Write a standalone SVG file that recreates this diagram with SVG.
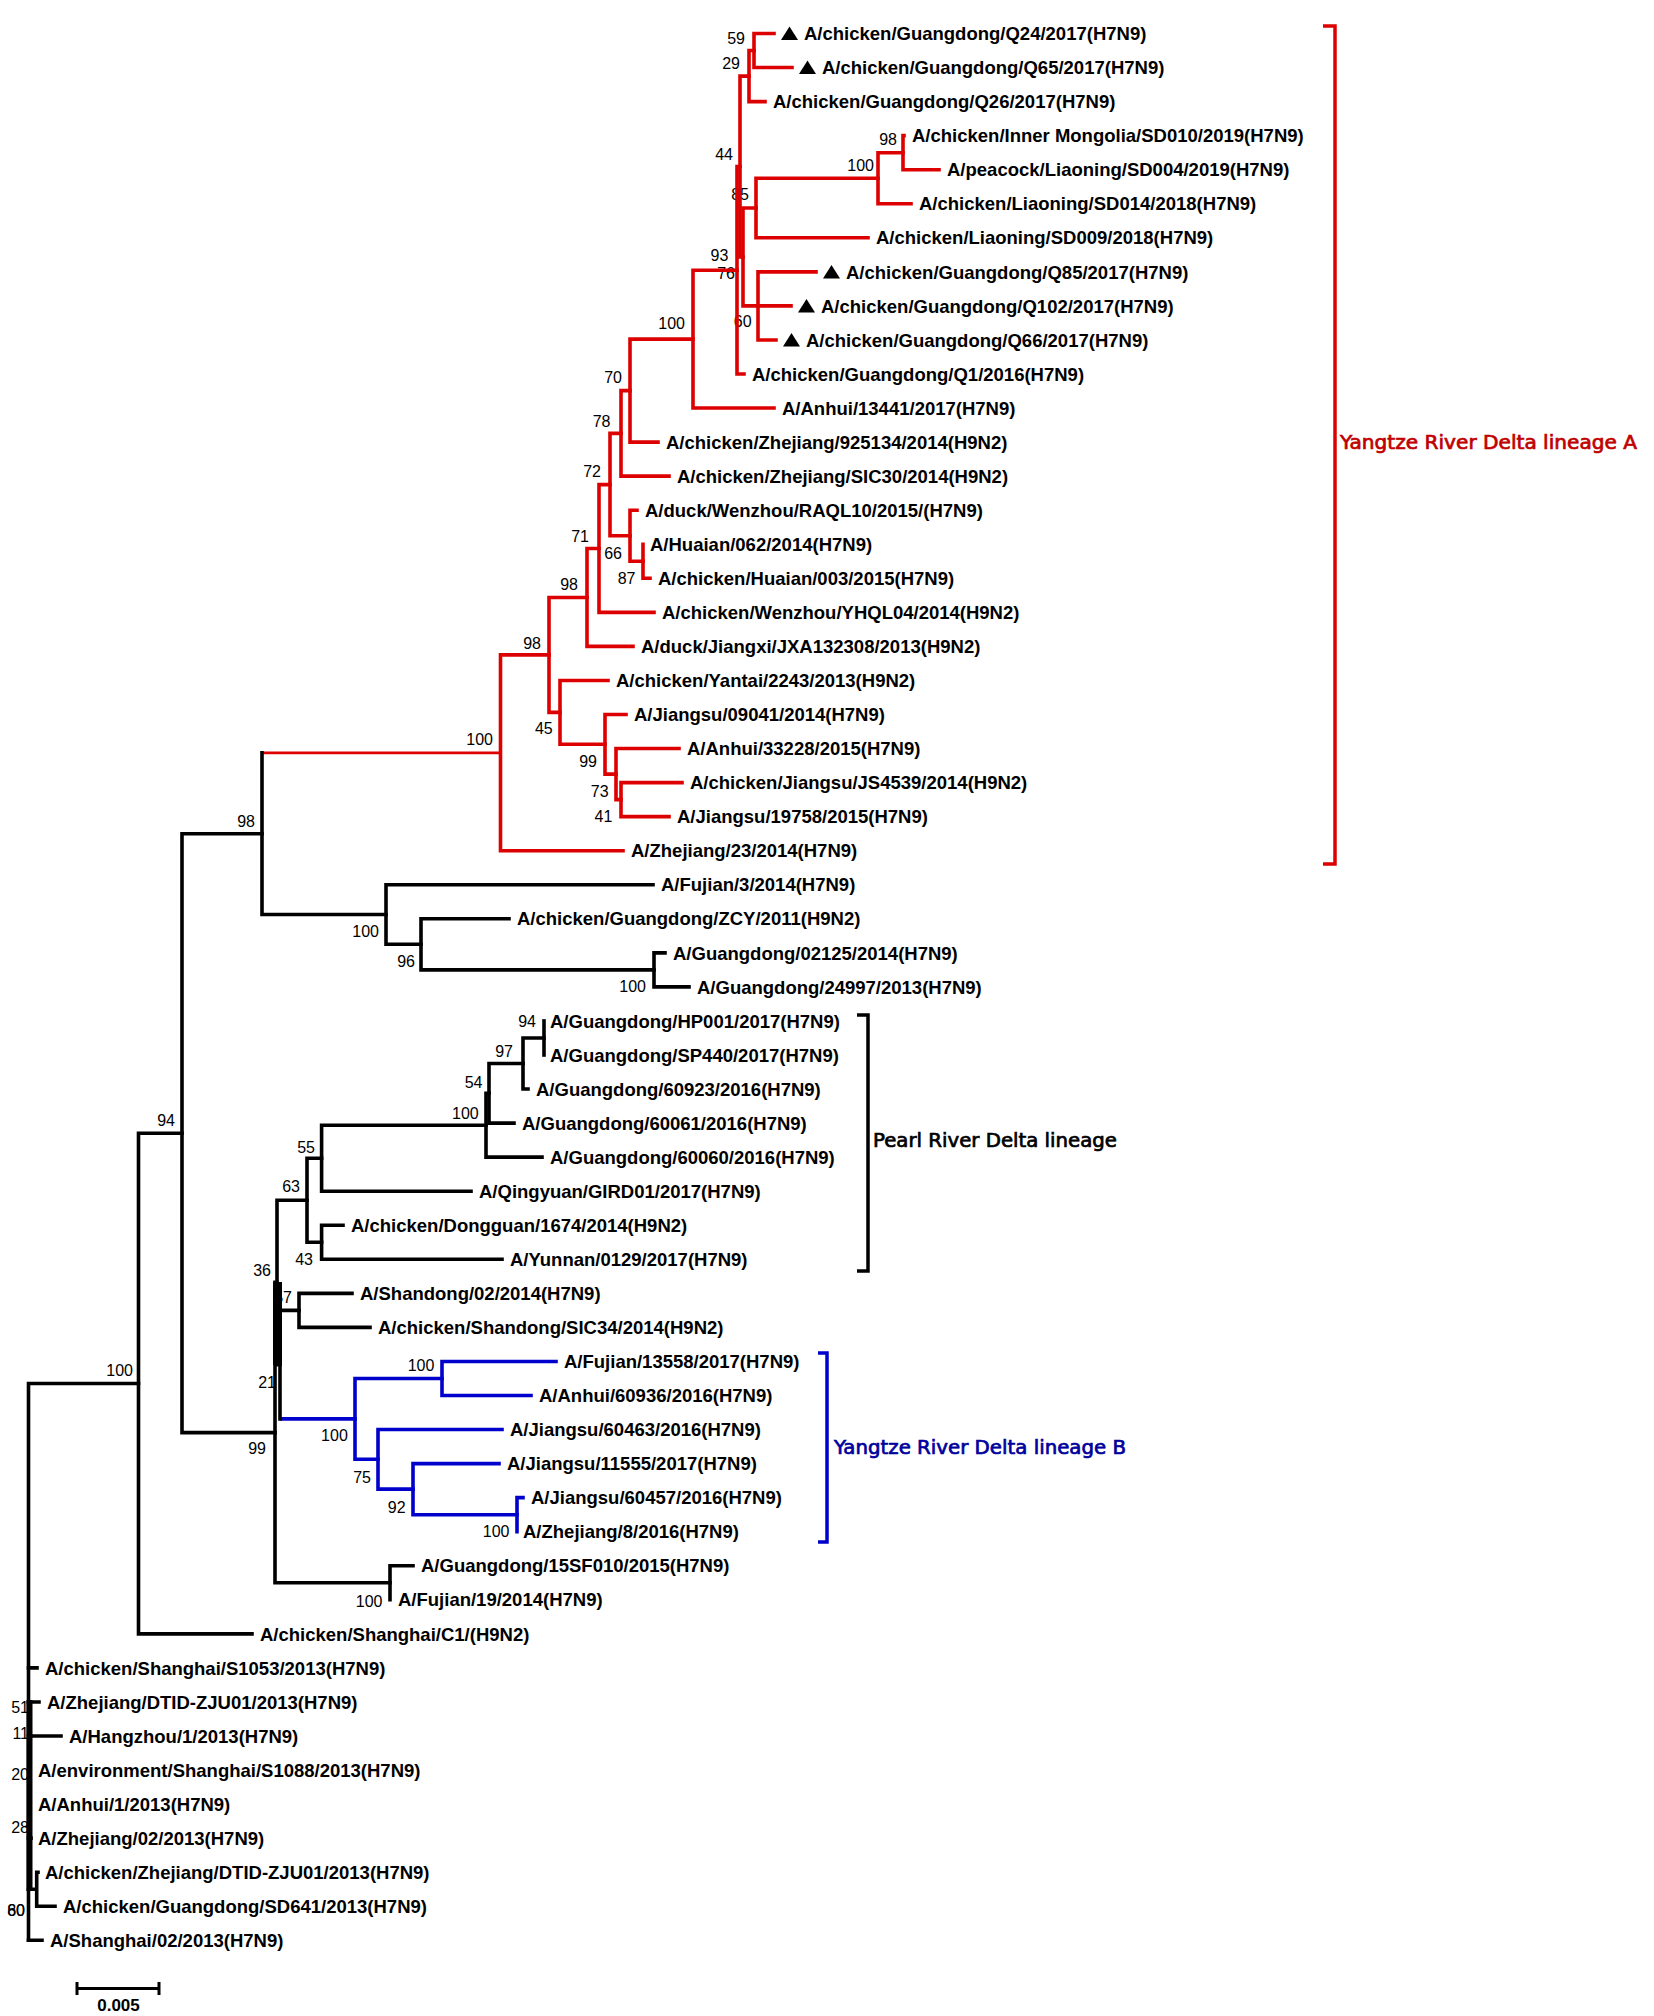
<svg xmlns="http://www.w3.org/2000/svg" width="1654" height="2016" viewBox="0 0 1654 2016">
<style>
.lf{font-family:"Liberation Sans",Arial,sans-serif;font-weight:bold;font-size:18.5px;fill:#000}
.bs{font-family:"Liberation Sans",Arial,sans-serif;font-size:16px;fill:#000;text-anchor:end}
.ln{font-family:"DejaVu Sans",sans-serif;font-size:19px;stroke-width:0.7}
.c path{fill:none;stroke-width:3.6;stroke-linecap:square}
.r{stroke:#dd0000}.b{stroke:#0000cc}.k{stroke:#000}
.br{fill:none;stroke-width:3.5}
</style>
<rect width="1654" height="2016" fill="#fff"/>
<g id="bootstrap">
<text class="bs" x="745" y="44">59</text>
<text class="bs" x="740" y="68.8">29</text>
<text class="bs" x="733" y="160">44</text>
<text class="bs" x="749" y="200">85</text>
<text class="bs" x="728.4" y="260.5">93</text>
<text class="bs" x="735" y="278.5">76</text>
<text class="bs" x="751.6" y="327">60</text>
<text class="bs" x="874" y="170.5">100</text>
<text class="bs" x="897" y="145">98</text>
<text class="bs" x="685" y="328.5">100</text>
<text class="bs" x="622" y="382.5">70</text>
<text class="bs" x="610.5" y="427">78</text>
<text class="bs" x="601" y="477">72</text>
<text class="bs" x="589" y="542">71</text>
<text class="bs" x="622" y="558.5">66</text>
<text class="bs" x="635.5" y="583.5">87</text>
<text class="bs" x="578" y="590.2">98</text>
<text class="bs" x="541" y="648.5">98</text>
<text class="bs" x="552.7" y="733.5">45</text>
<text class="bs" x="597" y="767">99</text>
<text class="bs" x="608.6" y="797">73</text>
<text class="bs" x="612.4" y="822">41</text>
<text class="bs" x="493" y="744.7">100</text>
<text class="bs" x="255" y="826.5">98</text>
<text class="bs" x="379" y="937">100</text>
<text class="bs" x="415" y="967">96</text>
<text class="bs" x="646" y="992.2">100</text>
<text class="bs" x="536" y="1026.5">94</text>
<text class="bs" x="513" y="1056.5">97</text>
<text class="bs" x="482.5" y="1087.5">54</text>
<text class="bs" x="478.7" y="1118.5">100</text>
<text class="bs" x="315" y="1152.5">55</text>
<text class="bs" x="300" y="1191.5">63</text>
<text class="bs" x="313" y="1264.5">43</text>
<text class="bs" x="271" y="1275.5">36</text>
<text class="bs" x="292" y="1302.5">57</text>
<text class="bs" x="276" y="1387.5">21</text>
<text class="bs" x="175" y="1125.5">94</text>
<text class="bs" x="133" y="1375.5">100</text>
<text class="bs" x="266" y="1453.5">99</text>
<text class="bs" x="434.4" y="1371.3">100</text>
<text class="bs" x="347.8" y="1441.4">100</text>
<text class="bs" x="371" y="1483">75</text>
<text class="bs" x="405.6" y="1513.2">92</text>
<text class="bs" x="509.5" y="1536.5">100</text>
<text class="bs" x="382.5" y="1606.5">100</text>
<text class="bs" x="29" y="1712.5">51</text>
<text class="bs" x="29" y="1739">11</text>
<text class="bs" x="29" y="1779.5">20</text>
<text class="bs" x="29" y="1832.5">28</text>
<text class="bs" x="25" y="1915.5">60</text>
<text class="bs" x="25" y="1915.5">80</text>
</g>
<g id="connectors" class="c">
<g class="r">
<path d="M754,33.5V67.55M754,33.5H774M754,67.55H792"/>
<path d="M749,50.5V101.6M749,50.5H754M749,101.6H765"/>
<path d="M740,76.1V257M740,76.1H749M740,257H743"/>
<path d="M743,208V305.9M743,208H756M743,305.9H791"/>
<path d="M756,178.2V237.8M756,178.2H878M756,237.8H868"/>
<path d="M878,152.7V203.75M878,152.7H903M878,203.75H911"/>
<path d="M903,135.65V169.7M903,135.65H904M903,169.7H939"/>
<path d="M758,271.85V339.95M758,271.85H816M758,339.95H776"/>
<path d="M737,166.5V374M737,166.5H740M737,374H744"/>
<path d="M693,270.25V408.05M693,270.25H737M693,408.05H774"/>
<path d="M630,339.15V442.1M630,339.15H693M630,442.1H658"/>
<path d="M621,390.6V476.15M621,390.6H630M621,476.15H669"/>
<path d="M643,544.25V578.3M643,578.3H650"/>
<path d="M630,510.2V561.3M630,510.2H637M630,561.3H643"/>
<path d="M610,433.4V535.7M610,433.4H621M610,535.7H630"/>
<path d="M599,484.6V612.35M599,484.6H610M599,612.35H654"/>
<path d="M587,548.5V646.4M587,548.5H599M587,646.4H633"/>
<path d="M621,782.6V816.65M621,782.6H682M621,816.65H669"/>
<path d="M616,748.55V799.6M616,748.55H679M616,799.6H621"/>
<path d="M605,714.5V774.1M605,714.5H626M605,774.1H616"/>
<path d="M560,680.45V744.3M560,680.45H608M560,744.3H605"/>
<path d="M549,597.45V712.4M549,597.45H587M549,712.4H560"/>
<path d="M500.5,654.9V850.7M500.5,654.9H549M500.5,850.7H623"/>
<path d="M263,752.8H500.5" style="stroke-width:2.8"/>
</g>
<g class="b">
<path d="M442,1361.45V1395.5M442,1361.45H556M442,1395.5H531"/>
<path d="M517,1497.65V1531.7M517,1497.65H523"/>
<path d="M413,1463.6V1514.7M413,1463.6H499M413,1514.7H517"/>
<path d="M378,1429.55V1489.1M378,1429.55H502M378,1489.1H413"/>
<path d="M355,1378.5V1459.3M355,1378.5H442M355,1459.3H378"/>
<path d="M282,1418.9H355"/>
</g>
<g class="k">
<path d="M262,752.8V914.5M262,914.5H386"/>
<path d="M386,884.75V944.3M386,884.75H653M386,944.3H421"/>
<path d="M421,918.8V969.9M421,918.8H509M421,969.9H654"/>
<path d="M654,952.85V986.9M654,952.85H665M654,986.9H689"/>
<path d="M544,1020.95V1055"/>
<path d="M523,1038V1089.05M523,1038H544M523,1089.05H528"/>
<path d="M489,1063.5V1123.1M489,1063.5H523M489,1123.1H514"/>
<path d="M486,1093.3V1157.15M486,1093.3H489M486,1157.15H542"/>
<path d="M321.6,1125.2V1191.2M321.6,1125.2H486M321.6,1191.2H471"/>
<path d="M321.6,1225.25V1259.3M321.6,1225.25H343M321.6,1259.3H502"/>
<path d="M307,1158.2V1242.3M307,1158.2H321.6M307,1242.3H321.6"/>
<path d="M299,1293.35V1327.4M299,1293.35H352M299,1327.4H370"/>
<path d="M280,1310.4V1418.9M280,1310.4H299"/>
<path d="M277,1200.2V1364.6M277,1200.2H307M277,1364.6H280"/>
<path d="M390,1565.75V1599.8M390,1565.75H413"/>
<path d="M275,1282.4V1582.8M275,1282.4H277M275,1582.8H390"/>
<path d="M182,833.7V1432.6M182,833.7H262M182,1432.6H275"/>
<path d="M138.5,1133.2V1633.85M138.5,1133.2H182M138.5,1633.85H252"/>
<path d="M28.5,1383.5V1940.3M28.5,1383.5H138.5"/>
<path d="M28.5,1667.9H37M28.5,1701.95H39M28.5,1736H61M28.5,1838.15H31M28.5,1889.2H36.7M36.7,1872.2V1906.25M36.7,1872.2H38M36.7,1906.25H55M28.5,1940.3H42"/>
</g>
<rect x="273" y="1282" width="9" height="83" fill="#000"/>
<rect x="26.5" y="1700" width="6" height="191" fill="#000"/>
</g>
<g id="leaves">
<g id="leaf01"><polygon points="781,40 798,40 789.5,26.5"/><text class="lf" x="804" y="40.1">A/chicken/Guangdong/Q24/2017(H7N9)</text></g>
<g id="leaf02"><polygon points="799,74 816,74 807.5,60.5"/><text class="lf" x="822" y="74.2">A/chicken/Guangdong/Q65/2017(H7N9)</text></g>
<g id="leaf03"><text class="lf" x="773" y="108.2">A/chicken/Guangdong/Q26/2017(H7N9)</text></g>
<g id="leaf04"><text class="lf" x="912" y="142.3">A/chicken/Inner Mongolia/SD010/2019(H7N9)</text></g>
<g id="leaf05"><text class="lf" x="947" y="176.3">A/peacock/Liaoning/SD004/2019(H7N9)</text></g>
<g id="leaf06"><text class="lf" x="919" y="210.4">A/chicken/Liaoning/SD014/2018(H7N9)</text></g>
<g id="leaf07"><text class="lf" x="876" y="244.4">A/chicken/Liaoning/SD009/2018(H7N9)</text></g>
<g id="leaf08"><polygon points="823,278.4 840,278.4 831.5,264.9"/><text class="lf" x="846" y="278.5">A/chicken/Guangdong/Q85/2017(H7N9)</text></g>
<g id="leaf09"><polygon points="798,312.4 815,312.4 806.5,298.9"/><text class="lf" x="821" y="312.5">A/chicken/Guangdong/Q102/2017(H7N9)</text></g>
<g id="leaf10"><polygon points="783,346.5 800,346.5 791.5,333"/><text class="lf" x="806" y="346.6">A/chicken/Guangdong/Q66/2017(H7N9)</text></g>
<g id="leaf11"><text class="lf" x="752" y="380.6">A/chicken/Guangdong/Q1/2016(H7N9)</text></g>
<g id="leaf12"><text class="lf" x="782" y="414.7">A/Anhui/13441/2017(H7N9)</text></g>
<g id="leaf13"><text class="lf" x="666" y="448.7">A/chicken/Zhejiang/925134/2014(H9N2)</text></g>
<g id="leaf14"><text class="lf" x="677" y="482.8">A/chicken/Zhejiang/SIC30/2014(H9N2)</text></g>
<g id="leaf15"><text class="lf" x="645" y="516.8">A/duck/Wenzhou/RAQL10/2015/(H7N9)</text></g>
<g id="leaf16"><text class="lf" x="650" y="550.9">A/Huaian/062/2014(H7N9)</text></g>
<g id="leaf17"><text class="lf" x="658" y="584.9">A/chicken/Huaian/003/2015(H7N9)</text></g>
<g id="leaf18"><text class="lf" x="662" y="619">A/chicken/Wenzhou/YHQL04/2014(H9N2)</text></g>
<g id="leaf19"><text class="lf" x="641" y="653">A/duck/Jiangxi/JXA132308/2013(H9N2)</text></g>
<g id="leaf20"><text class="lf" x="616" y="687.1">A/chicken/Yantai/2243/2013(H9N2)</text></g>
<g id="leaf21"><text class="lf" x="634" y="721.1">A/Jiangsu/09041/2014(H7N9)</text></g>
<g id="leaf22"><text class="lf" x="687" y="755.2">A/Anhui/33228/2015(H7N9)</text></g>
<g id="leaf23"><text class="lf" x="690" y="789.2">A/chicken/Jiangsu/JS4539/2014(H9N2)</text></g>
<g id="leaf24"><text class="lf" x="677" y="823.3">A/Jiangsu/19758/2015(H7N9)</text></g>
<g id="leaf25"><text class="lf" x="631" y="857.3">A/Zhejiang/23/2014(H7N9)</text></g>
<g id="leaf26"><text class="lf" x="661" y="891.4">A/Fujian/3/2014(H7N9)</text></g>
<g id="leaf27"><text class="lf" x="517" y="925.4">A/chicken/Guangdong/ZCY/2011(H9N2)</text></g>
<g id="leaf28"><text class="lf" x="673" y="959.5">A/Guangdong/02125/2014(H7N9)</text></g>
<g id="leaf29"><text class="lf" x="697" y="993.5">A/Guangdong/24997/2013(H7N9)</text></g>
<g id="leaf30"><text class="lf" x="550" y="1027.6">A/Guangdong/HP001/2017(H7N9)</text></g>
<g id="leaf31"><text class="lf" x="550" y="1061.6">A/Guangdong/SP440/2017(H7N9)</text></g>
<g id="leaf32"><text class="lf" x="536" y="1095.7">A/Guangdong/60923/2016(H7N9)</text></g>
<g id="leaf33"><text class="lf" x="522" y="1129.7">A/Guangdong/60061/2016(H7N9)</text></g>
<g id="leaf34"><text class="lf" x="550" y="1163.8">A/Guangdong/60060/2016(H7N9)</text></g>
<g id="leaf35"><text class="lf" x="479" y="1197.8">A/Qingyuan/GIRD01/2017(H7N9)</text></g>
<g id="leaf36"><text class="lf" x="351" y="1231.9">A/chicken/Dongguan/1674/2014(H9N2)</text></g>
<g id="leaf37"><text class="lf" x="510" y="1265.9">A/Yunnan/0129/2017(H7N9)</text></g>
<g id="leaf38"><text class="lf" x="360" y="1300">A/Shandong/02/2014(H7N9)</text></g>
<g id="leaf39"><text class="lf" x="378" y="1334">A/chicken/Shandong/SIC34/2014(H9N2)</text></g>
<g id="leaf40"><text class="lf" x="564" y="1368.1">A/Fujian/13558/2017(H7N9)</text></g>
<g id="leaf41"><text class="lf" x="539" y="1402.1">A/Anhui/60936/2016(H7N9)</text></g>
<g id="leaf42"><text class="lf" x="510" y="1436.2">A/Jiangsu/60463/2016(H7N9)</text></g>
<g id="leaf43"><text class="lf" x="507" y="1470.2">A/Jiangsu/11555/2017(H7N9)</text></g>
<g id="leaf44"><text class="lf" x="531" y="1504.3">A/Jiangsu/60457/2016(H7N9)</text></g>
<g id="leaf45"><text class="lf" x="523" y="1538.3">A/Zhejiang/8/2016(H7N9)</text></g>
<g id="leaf46"><text class="lf" x="421" y="1572.4">A/Guangdong/15SF010/2015(H7N9)</text></g>
<g id="leaf47"><text class="lf" x="398" y="1606.4">A/Fujian/19/2014(H7N9)</text></g>
<g id="leaf48"><text class="lf" x="260" y="1640.5">A/chicken/Shanghai/C1/(H9N2)</text></g>
<g id="leaf49"><text class="lf" x="45" y="1674.5">A/chicken/Shanghai/S1053/2013(H7N9)</text></g>
<g id="leaf50"><text class="lf" x="47" y="1708.6">A/Zhejiang/DTID-ZJU01/2013(H7N9)</text></g>
<g id="leaf51"><text class="lf" x="69" y="1742.6">A/Hangzhou/1/2013(H7N9)</text></g>
<g id="leaf52"><text class="lf" x="38" y="1776.7">A/environment/Shanghai/S1088/2013(H7N9)</text></g>
<g id="leaf53"><text class="lf" x="38" y="1810.7">A/Anhui/1/2013(H7N9)</text></g>
<g id="leaf54"><text class="lf" x="38" y="1844.8">A/Zhejiang/02/2013(H7N9)</text></g>
<g id="leaf55"><text class="lf" x="45" y="1878.8">A/chicken/Zhejiang/DTID-ZJU01/2013(H7N9)</text></g>
<g id="leaf56"><text class="lf" x="63" y="1912.9">A/chicken/Guangdong/SD641/2013(H7N9)</text></g>
<g id="leaf57"><text class="lf" x="50" y="1946.9">A/Shanghai/02/2013(H7N9)</text></g>
</g>
<g id="lineage-A">
<path class="br" stroke="#dd0000" d="M1323,26H1335V864H1323"/>
<text class="ln" fill="#c00000" stroke="#c00000" x="1340" y="449" textLength="297" lengthAdjust="spacingAndGlyphs">Yangtze River Delta lineage A</text>
</g>
<g id="lineage-Pearl">
<path class="br" stroke="#000" d="M857,1015H868V1271H857"/>
<text class="ln" fill="#000" stroke="#000" x="873" y="1146.5" textLength="244" lengthAdjust="spacingAndGlyphs">Pearl River Delta lineage</text>
</g>
<g id="lineage-B">
<path class="br" stroke="#0000cc" d="M818,1353H827V1542H818"/>
<text class="ln" fill="#00009c" stroke="#00009c" x="834" y="1454" textLength="292" lengthAdjust="spacingAndGlyphs">Yangtze River Delta lineage B</text>
</g>
<g id="scalebar">
<path d="M77,1988.5H159M77,1982V1995M159,1982V1995" fill="none" stroke="#000" stroke-width="3"/>
<text x="118.5" y="2010.5" text-anchor="middle" style="font-family:'Liberation Sans',Arial,sans-serif;font-weight:bold;font-size:17px">0.005</text>
</g>
</svg>
